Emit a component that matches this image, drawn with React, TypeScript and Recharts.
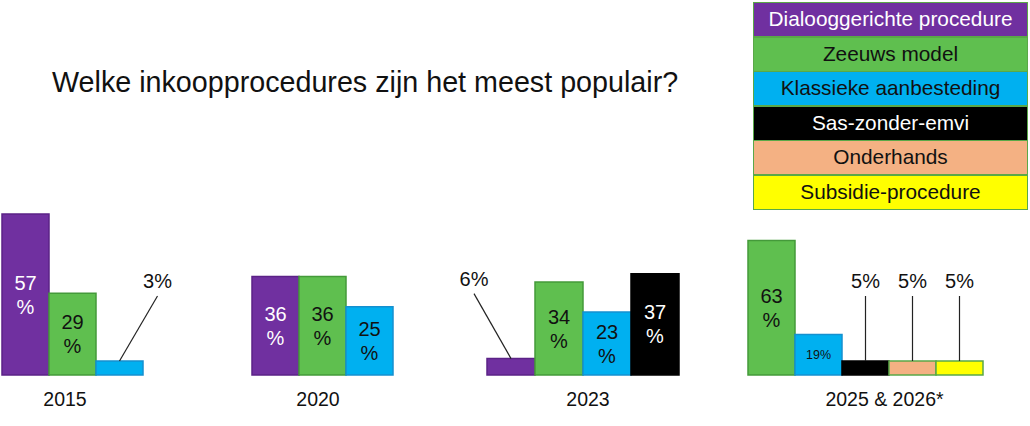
import { Bar, BarChart, LabelList, XAxis, YAxis } from "recharts"

const years = ["2015", "2020", "2023", "2025 & 2026*"]
const seriesNames = [
  "Dialooggerichte procedure",
  "Zeeuws model",
  "Klassieke aanbesteding",
  "Sas-zonder-emvi",
  "Onderhands",
  "Subsidie-procedure",
]

// percentages per year, null = not shown that year
const dialoog = [57, 36, 6, null]
const zeeuws = [29, 36, 34, 63]
const klassiek = [3, 25, 23, 19]
const sas = [null, null, 37, 5]
const onderhands = [null, null, null, 5]
const subsidie = [null, null, null, 5]
const seriesValues: (number | null)[][] = [dialoog, zeeuws, klassiek, sas, onderhands, subsidie]

// each year is drawn on its own scale in the original slide
const axisMax = [62, 64, 64, 82]

const fills = ["#7030a0", "#5fbf4f", "#00b0f0", "#000000", "#f4b183", "#ffff00"]
const strokes = ["#5b2287", "#449a3a", "#1590cf", "#000000", "#5aa848", "#5aa848"]
const textOnFill = ["#ffffff", "#111111", "#111111", "#ffffff", "#111111", "#111111"]

const groupLeft = [2, 252, 487, 748]
const groupWidth = [140, 140, 190, 237]
const tickShift = [-7, -4, 6, 18]
const leaderDx = [38, 0, -37, 0]

const font = "'Liberation Sans', Arial, sans-serif"

function makeLabel(group: number, s: number) {
  return (props: any) => {
    const x = Number(props.x)
    const y = Number(props.y)
    const w = Number(props.width)
    const h = Number(props.height)
    const v = Number(props.value)
    const cx = x + w / 2
    if (v < 10) {
      const dx = leaderDx[group]
      return (
        <g>
          <line x1={cx} y1={y} x2={cx + dx} y2={y - 65} stroke="#222" strokeWidth={1.2} />
          <text x={cx + dx} y={y - 73} textAnchor="middle" fontSize={20} fill="#111" fontFamily={font}>
            {v}%
          </text>
        </g>
      )
    }
    const cy = y + h / 2
    if (h < 45) {
      return (
        <text x={cx} y={cy} textAnchor="middle" dominantBaseline="central" fontSize={12.5} fill={textOnFill[s]} fontFamily={font}>
          {v}%
        </text>
      )
    }
    return (
      <g fontFamily={font} fontSize={20} fill={textOnFill[s]} textAnchor="middle">
        <text x={cx} y={cy - 12} dominantBaseline="central">{v}</text>
        <text x={cx} y={cy + 12} dominantBaseline="central">%</text>
      </g>
    )
  }
}

function YearGroup({ group }: { group: number }) {
  const shown = seriesNames.map((_, s) => s).filter((s) => seriesValues[s][group] !== null)
  const row: Record<string, string | number> = { year: years[group] }
  shown.forEach((s) => {
    row[seriesNames[s]] = seriesValues[s][group] as number
  })

  return (
    <div style={{ position: "absolute", left: groupLeft[group], top: 200 }}>
      <BarChart
        width={groupWidth[group]}
        height={215}
        data={[row]}
        margin={{ top: 0, right: 0, bottom: 0, left: 0 }}
        barCategoryGap={0}
        barGap={0}
      >
        <XAxis
          dataKey="year"
          axisLine={false}
          tickLine={false}
          height={40}
          tick={(p: any) => (
            <text x={p.x + tickShift[group]} y={p.y + 23} textAnchor="middle" fontSize={19.5} fill="#111" fontFamily={font}>
              {p.payload.value}
            </text>
          )}
        />
        <YAxis hide domain={[0, axisMax[group]]} />
        {shown.map((s) => (
          <Bar
            key={seriesNames[s]}
            dataKey={seriesNames[s]}
            fill={fills[s]}
            stroke={strokes[s]}
            strokeWidth={1.5}
            minPointSize={14}
            isAnimationActive={false}
          >
            <LabelList dataKey={seriesNames[s]} content={makeLabel(group, s)} />
          </Bar>
        ))}
      </BarChart>
    </div>
  )
}

export default function App() {
  return (
    <div style={{ position: "absolute", left: 0, top: 0, width: 1030, height: 426, background: "#fff", fontFamily: font, overflow: "hidden" }}>
      <style>{`body{margin:0} .recharts-surface{overflow:visible}`}</style>
      <div style={{ position: "absolute", left: 52, top: 66, fontSize: 28.7, lineHeight: "32px", color: "#111", whiteSpace: "nowrap" }}>
        Welke inkoopprocedures zijn het meest populair?
      </div>
      <div style={{ position: "absolute", left: 753, top: 2, width: 275 }}>
        {seriesNames.map((name, s) => (
          <div
            key={name}
            style={{
              height: 35,
              boxSizing: "border-box",
              border: "1.5px solid #5aa848",
              marginTop: s === 0 ? 0 : -0.5,
              background: fills[s],
              color: textOnFill[s],
              fontSize: 20.8,
              lineHeight: "32px",
              textAlign: "center",
              whiteSpace: "nowrap",
            }}
          >
            {name}
          </div>
        ))}
      </div>
      {years.map((_, g) => (
        <YearGroup key={g} group={g} />
      ))}
    </div>
  )
}
